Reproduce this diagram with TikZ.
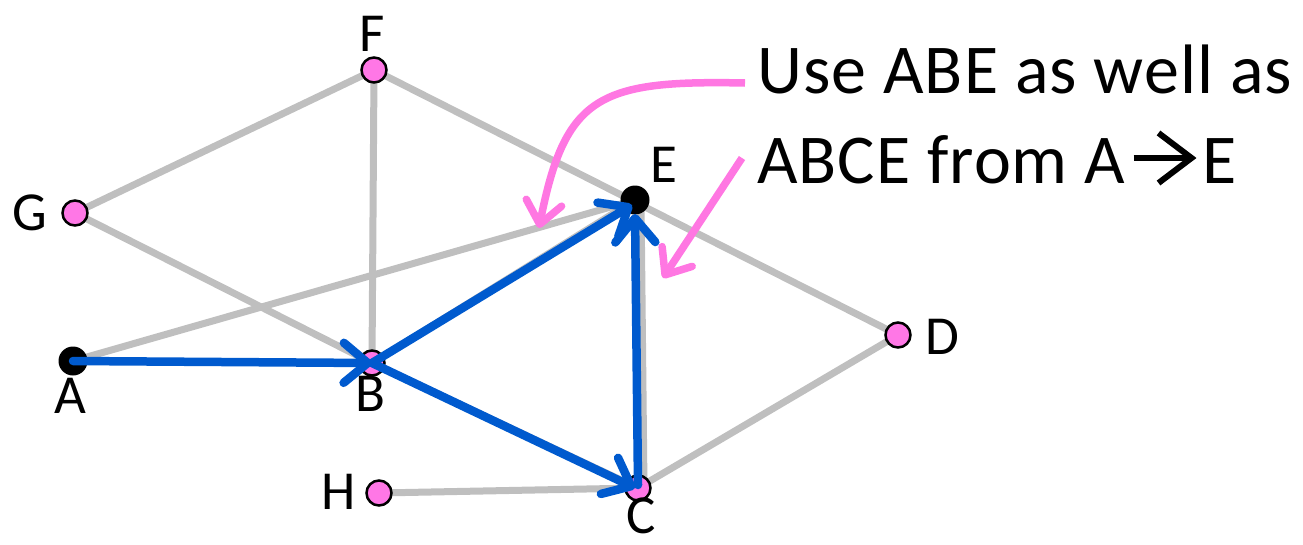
\documentclass[tikz,border=0pt]{standalone}
\usepackage{fontspec}
\setmainfont{Carlito}
\usetikzlibrary{arrows.meta}
\definecolor{edgegray}{RGB}{191,191,191}
\definecolor{nodepink}{RGB}{255,119,230}
\definecolor{pathblue}{RGB}{0,90,206}
\definecolor{notepink}{RGB}{255,119,226}
\tikzset{
  vtx/.style={circle,draw=black,line width=2.5pt,fill=nodepink,minimum size=25pt,inner sep=0pt},
  endvtx/.style={circle,fill=black,minimum size=29pt,inner sep=0pt},
  lbl/.style={font=\fontsize{55}{60}\selectfont,inner sep=0pt,anchor=base},
  edge/.style={draw=edgegray,line width=7pt},
  route/.style={draw=pathblue,line width=8.5pt,line cap=round,-{Straight Barb[length=24pt,width=40pt,round]}},
  note/.style={draw=notepink,line width=7.5pt,-{Straight Barb[length=22pt,width=36pt,round]}},
  txt/.style={font=\fontsize{70}{80}\selectfont\addfontfeatures{LetterSpace=1.5},inner sep=0pt,anchor=base west}
}
\begin{document}
\begin{tikzpicture}[x=1pt,y=-1pt]
\useasboundingbox (0,0) rectangle (1303,544);
% coordinates
\coordinate (pA) at (73,361);
\coordinate (pB) at (372,363);
\coordinate (pC) at (638,488);
\coordinate (pD) at (898,335);
\coordinate (pE) at (635,200);
\coordinate (pF) at (374,70);
\coordinate (pG) at (75,213);
\coordinate (pH) at (379,493);
% gray edges
\draw[edge] (pG) -- (pF);
\draw[edge] (pF) -- (pB);
\draw[edge] (pF) -- (pD);
\draw[edge] (pG) -- (pB);
\draw[edge] (pB) -- (pC);
\draw[edge] (pA) -- (pE);
\draw[edge] (pA) -- (pB);
\draw[edge] (pB) -- (pE);
\draw[edge] ([xshift=6pt]pE) -- ([xshift=6pt]pC);
\draw[edge] (pC) -- (pD);
\draw[edge] (pH) -- (pC);
% nodes
\node[endvtx] (A) at (pA) {};
\node[endvtx] (E) at (pE) {};
\node[vtx] (B) at (pB) {};
\node[vtx] (C) at (pC) {};
\node[vtx] (D) at (pD) {};
\node[vtx] (F) at (pF) {};
\node[vtx] (G) at (pG) {};
\node[vtx] (H) at (pH) {};
% blue route
\draw[route] (A.center) -- (B.center);
\draw[route] (B.center) -- ([xshift=-3pt,yshift=-5pt]E.center);
\draw[route] (B.center) -- ([xshift=-3pt]C.center);
\draw[route] ([yshift=3pt]C.center) -- ([yshift=-14pt]E.center);
% labels
\node[lbl] (lA) at (70,413) {A};
\node[lbl] (lB) at (370,411) {B};
\node[lbl] (lC) at (641,533) {C};
\node[lbl] (lD) at (942,354) {D};
\node[lbl] (lE) at (664,182) {E};
\node[lbl] (lF) at (372,51) {F};
\node[lbl] (lG) at (30,230) {G};
\node[lbl] (lH) at (339,509) {H};
% note text
\node[txt] (t1) at (757,93) {Use ABE as well as};
\node[txt] (t2) at (757,183) {ABCE from A};
\draw[line width=6pt] ([xshift=8pt,yshift=25pt]t2.base east) coordinate (ar1) -- ++(58,0) coordinate (ar2);
\draw[line width=6pt,line join=miter] ([xshift=-33pt,yshift=25pt]ar2) -- (ar2) -- ([xshift=-33pt,yshift=-25pt]ar2);
\node[txt] (t3) at ([xshift=11pt,yshift=-25pt]ar2) {E};
% pink notes
\coordinate (n1s) at (745,83);
\coordinate (n1e) at (539,228);
\coordinate (n2s) at (742,158);
\coordinate (n2e) at (663,278);
\draw[note] (n1s) .. controls (600,80) and (565,95) .. (n1e);
\draw[note] (n2s) -- (n2e);
\end{tikzpicture}
\end{document}
